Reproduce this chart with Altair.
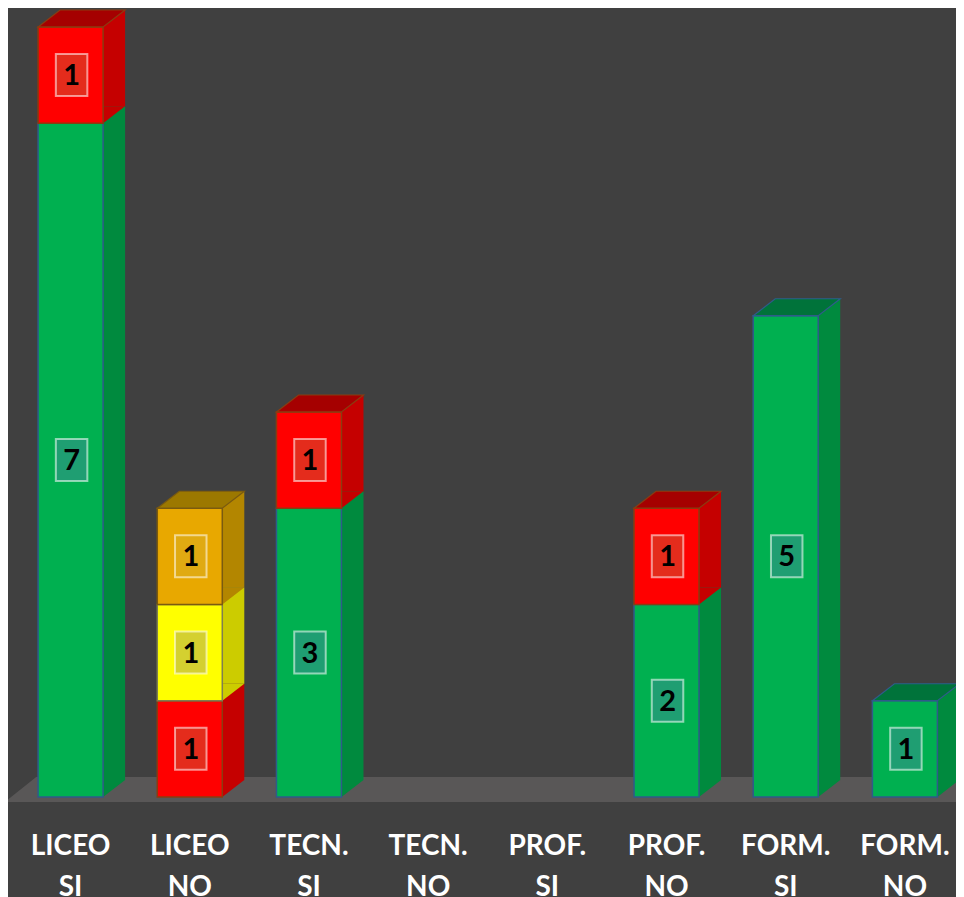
import altair as alt
import pandas as pd

# ---- data ----
categories = ["LICEO SI", "LICEO NO", "TECN. SI", "TECN. NO",
              "PROF. SI", "PROF. NO", "FORM. SI", "FORM. NO"]
series = ["verde", "rosso", "giallo", "arancione"]
verde = [7, 0, 3, 0, 0, 2, 5, 1]
rosso = [1, 1, 1, 0, 0, 1, 0, 0]
giallo = [0, 1, 0, 0, 0, 0, 0, 0]
arancione = [0, 1, 0, 0, 0, 0, 0, 0]

# ---- styles ----
front_colors = ["#00b050", "#ff0000", "#ffff00", "#e8a800"]
side_colors = ["#008a3e", "#c50000", "#cccc00", "#b38600"]
top_colors = ["#00733a", "#a50000", "#b3b300", "#9c7800"]
box_colors = ["#1f9e72", "#e42c1c", "#d4d030", "#e0aa12"]
edge_colors = ["#2f5b8a", "#8a3c10", "#7f7f50", "#7a5a10"]

rows = []
for i, c in enumerate(categories):
    base = 0
    segs = []
    for s, vals in zip(series, [verde, rosso, giallo, arancione]):
        v = vals[i]
        if v > 0:
            segs.append(dict(cat=c, serie=s, value=v, start=base, end=base + v,
                             mid=base + v / 2, top=False))
            base += v
    if segs:
        segs[-1]["top"] = True
    rows.extend(segs)
df = pd.DataFrame(rows)

BAR_W = 65
DX, DY = 22, 17

def sc(rng):
    return alt.Scale(domain=series, range=rng)

x_enc = alt.X(
    "cat:N",
    scale=alt.Scale(domain=categories, range=[3, 956.5], paddingInner=0, paddingOuter=0),
    axis=alt.Axis(title=None, labelExpr="split(datum.label, ' ')", labelAngle=0,
                  labelFont="Lato", labelFontSize=28, labelFontWeight="bold",
                  labelColor="white", labelPadding=30, labelLineHeight=41,
                  ticks=False, domain=False, grid=False),
)
y_scale = alt.Scale(domain=[-0.052, 8.197], nice=False, zero=False)

base = alt.Chart(df)

floor = alt.Chart(pd.DataFrame({"k": [0]})).mark_point(
    shape="M-1,0.026L-0.935,-0.026L1,-0.026L1,0.026Z", size=960 ** 2,
    filled=True, fill="#595757", strokeWidth=0, opacity=1,
).encode(x=alt.value(477), y=alt.value(781.5))

side = base.mark_bar(width=BAR_W, xOffset=DX, yOffset=-DY, y2Offset=-DY).encode(
    x=x_enc,
    y=alt.Y("start:Q", scale=y_scale, axis=None),
    y2="end:Q",
    fill=alt.Fill("serie:N", scale=sc(side_colors), legend=None),
)

side_tri = base.mark_point(
    shape="M-1,0.773L-1,-0.773L1,-0.773Z", size=DX ** 2, filled=True,
    strokeWidth=0, opacity=1, xOffset=BAR_W / 2 + DX / 2, yOffset=-DY / 2,
).encode(
    x=x_enc,
    y=alt.Y("start:Q", scale=y_scale, axis=None),
    fill=alt.Fill("serie:N", scale=sc(side_colors), legend=None),
)

front = base.mark_bar(width=BAR_W, strokeWidth=1.5).encode(
    x=x_enc,
    y=alt.Y("start:Q", scale=y_scale, axis=None),
    y2="end:Q",
    fill=alt.Fill("serie:N", scale=sc(front_colors), legend=None),
    stroke=alt.Stroke("serie:N", scale=sc(edge_colors), legend=None),
)

topface = base.transform_filter("datum.top").mark_point(
    shape="M-1,0.195L-0.494,-0.195L1,-0.195L0.494,0.195Z", size=(BAR_W + DX) ** 2,
    filled=True, strokeWidth=1.2, opacity=1, xOffset=DX / 2, yOffset=-DY / 2,
).encode(
    x=x_enc,
    y=alt.Y("end:Q", scale=y_scale, axis=None),
    fill=alt.Fill("serie:N", scale=sc(top_colors), legend=None),
    stroke=alt.Stroke("serie:N", scale=sc(edge_colors), legend=None),
)

boxes = base.mark_point(
    shape="M-0.75,-1H0.75V1H-0.75Z", size=42 ** 2, filled=True, opacity=1,
    stroke="white", strokeOpacity=0.55, strokeWidth=2, xOffset=1,
).encode(
    x=x_enc,
    y=alt.Y("mid:Q", scale=y_scale, axis=None),
    fill=alt.Fill("serie:N", scale=sc(box_colors), legend=None),
)

labels = base.mark_text(
    font="Lato", fontSize=29, fontWeight="bold", color="black",
    baseline="middle", align="center", xOffset=1, dy=1,
).encode(
    x=x_enc,
    y=alt.Y("mid:Q", scale=y_scale, axis=None),
    text="value:Q",
)

chart = alt.layer(floor, side, side_tri, front, topface, boxes, labels).resolve_scale(
    fill="independent", stroke="independent"
).properties(
    width=948, height=794,
    padding={"left": 0, "top": 0, "right": 0, "bottom": 95},
    autosize=alt.AutoSizeParams(type="none"),
    background="#404040",
).configure_view(stroke=None)

chart.save("out.html", embed_options={"renderer": "svg", "actions": False})
